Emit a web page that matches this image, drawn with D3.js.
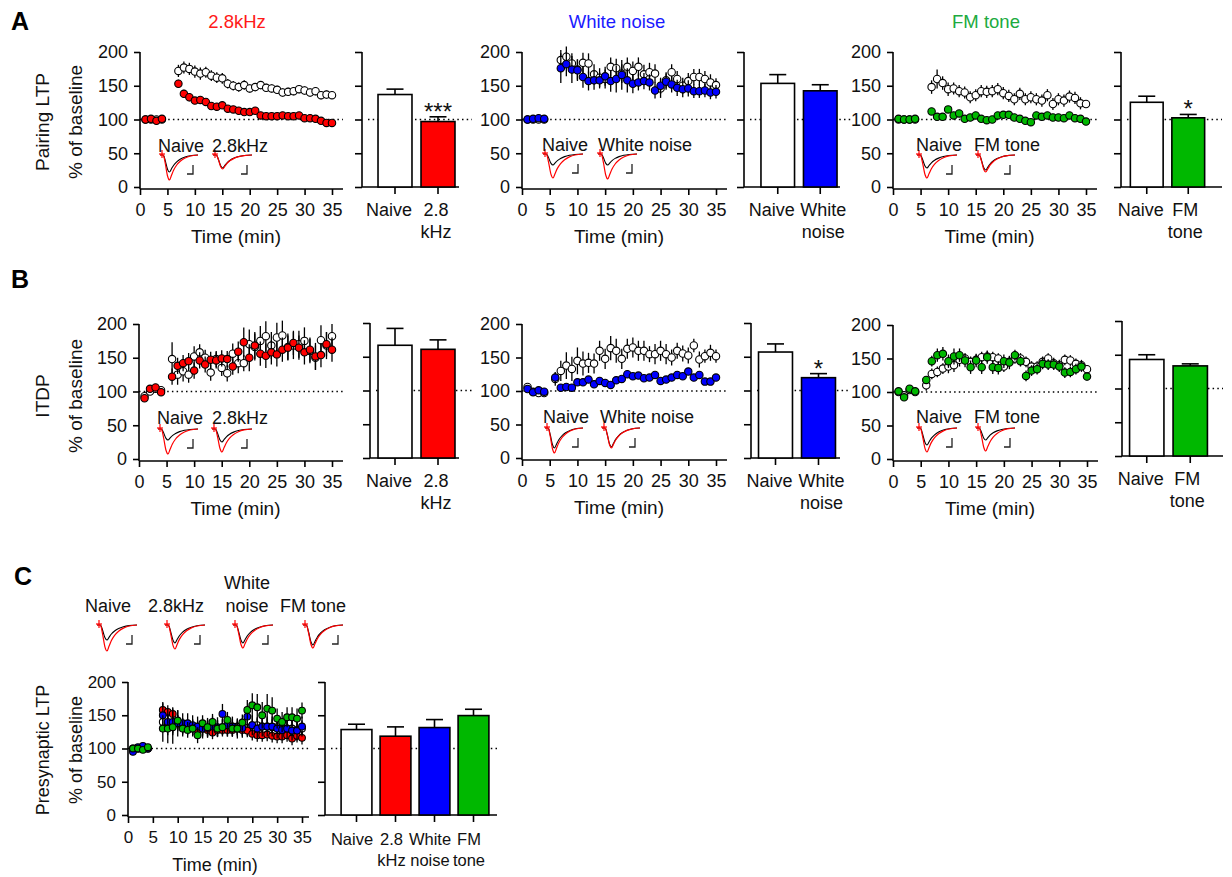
<!DOCTYPE html>
<html>
<head>
<meta charset="utf-8">
<script src="https://cdn.jsdelivr.net/npm/d3@7"></script>
<style>
  body { margin: 0; background: #fff; }
  svg { font-family: "Liberation Sans", Arial, sans-serif; }
</style>
</head>
<body>
<svg id="fig" width="1232" height="877"></svg>
<script>
// ---------- Data ----------

// time points (min)
const timeA = [1, 2, 3, 4, 7, 8, 9, 10, 11, 12, 13, 14, 15, 16, 17, 18, 19, 20, 21, 22, 23, 24, 25, 26, 27, 28, 29, 30, 31, 32, 33, 34, 35];
const timeB = [1, 2, 3, 4, 6, 7, 8, 9, 10, 11, 12, 13, 14, 15, 16, 17, 18, 19, 20, 21, 22, 23, 24, 25, 26, 27, 28, 29, 30, 31, 32, 33, 34, 35];
const timeTicks = [0, 5, 10, 15, 20, 25, 30, 35];
const yTicks = [0, 50, 100, 150, 200];

// A: pairing LTP
const a1Naive = [100, 100, 100, 100, 172, 177, 175, 171, 168, 170, 165, 162, 161, 153, 150, 148, 151, 146, 148, 151, 147, 146, 144, 140, 141, 142, 145, 143, 140, 142, 136, 137, 136];
const a1NaiveErr = [3, 3, 3, 3, 9, 9, 9, 9, 9, 8, 8, 8, 8, 7, 7, 7, 7, 6, 6, 6, 6, 6, 6, 6, 6, 6, 6, 6, 6, 6, 6, 6, 5];
const a1Tone = [100, 101, 98, 101, 153, 138, 133, 128, 129, 126, 120, 119, 121, 116, 115, 113, 111, 111, 113, 106, 105, 105, 105, 106, 105, 105, 106, 102, 102, 101, 98, 95, 95];
const a1ToneErr = [2, 2, 2, 2, 6, 6, 6, 5, 5, 5, 5, 5, 5, 4, 4, 4, 4, 4, 4, 4, 4, 4, 4, 4, 4, 4, 4, 4, 4, 4, 4, 4, 4];

const a2Naive = [100, 100, 100, 100, 188, 193, 183, 174, 184, 183, 167, 162, 160, 178, 176, 168, 178, 172, 178, 167, 170, 168, 146, 158, 170, 160, 150, 157, 163, 163, 160, 155, 151];
const a2NaiveErr = [3, 3, 3, 3, 15, 15, 15, 15, 15, 15, 15, 14, 14, 14, 14, 14, 14, 14, 14, 14, 14, 14, 14, 12, 12, 12, 12, 12, 12, 12, 12, 12, 10];
const a2Tone = [100, 101, 102, 101, 176, 182, 174, 173, 163, 157, 158, 158, 164, 157, 160, 166, 158, 153, 155, 157, 155, 143, 150, 156, 152, 147, 145, 146, 142, 142, 143, 140, 141];
const a2ToneErr = [2, 2, 2, 2, 22, 18, 20, 16, 16, 14, 14, 12, 14, 16, 20, 22, 18, 14, 12, 12, 12, 12, 12, 12, 12, 12, 12, 12, 10, 10, 10, 10, 10];

const a3Naive = [100, 100, 100, 100, 148, 160, 154, 145, 146, 142, 140, 133, 136, 142, 141, 142, 145, 139, 135, 130, 138, 130, 133, 130, 128, 136, 123, 130, 128, 134, 132, 124, 123];
const a3NaiveErr = [2, 2, 2, 2, 10, 14, 10, 10, 9, 9, 9, 9, 9, 9, 9, 9, 9, 9, 9, 9, 9, 9, 9, 9, 9, 9, 9, 9, 9, 9, 9, 9, 6];
const a3Tone = [101, 100, 100, 101, 112, 104, 104, 115, 106, 109, 101, 103, 106, 101, 99, 100, 106, 107, 107, 103, 101, 98, 96, 106, 104, 106, 103, 103, 102, 106, 102, 101, 97];
const a3ToneErr = [2, 2, 2, 2, 4, 4, 4, 4, 4, 4, 4, 4, 4, 4, 4, 4, 4, 4, 4, 4, 4, 4, 4, 4, 4, 4, 4, 4, 4, 4, 4, 4, 4];

// B: ITDP
const b1Naive = [93, 100, 104, 102, 148, 125, 130, 125, 152, 158, 150, 128, 148, 135, 127, 156, 142, 142, 170, 166, 175, 182, 168, 180, 183, 166, 168, 170, 175, 160, 150, 176, 168, 182];
const b1NaiveErr = [4, 4, 4, 4, 25, 15, 15, 12, 15, 12, 12, 12, 12, 12, 12, 15, 15, 12, 22, 20, 22, 22, 20, 22, 22, 20, 20, 20, 20, 18, 18, 22, 20, 18];
const b1Tone = [90, 104, 106, 99, 122, 138, 142, 145, 131, 146, 140, 147, 146, 149, 148, 137, 159, 173, 150, 168, 156, 153, 158, 155, 162, 165, 172, 165, 158, 162, 152, 154, 170, 162];
const b1ToneErr = [3, 3, 3, 3, 12, 12, 12, 12, 12, 12, 12, 12, 12, 12, 12, 12, 15, 22, 20, 20, 18, 18, 18, 18, 18, 18, 18, 18, 18, 18, 20, 18, 18, 18];

const b2Naive = [106, 99, 97, 97, 118, 130, 138, 133, 145, 141, 142, 141, 160, 148, 164, 160, 148, 163, 165, 160, 160, 155, 155, 160, 155, 150, 160, 156, 153, 168, 147, 152, 157, 152];
const b2NaiveErr = [3, 3, 3, 3, 10, 15, 20, 18, 20, 18, 15, 15, 15, 15, 18, 18, 15, 15, 15, 15, 15, 12, 15, 15, 15, 12, 12, 12, 12, 10, 12, 10, 12, 10];
const b2Tone = [103, 98, 101, 99, 120, 105, 106, 105, 113, 113, 117, 110, 115, 112, 109, 116, 118, 125, 122, 123, 119, 120, 124, 115, 117, 120, 124, 122, 129, 120, 124, 114, 114, 120];
const b2ToneErr = [3, 3, 3, 3, 8, 5, 5, 5, 5, 5, 5, 5, 5, 5, 5, 5, 5, 5, 5, 5, 5, 5, 5, 5, 5, 5, 5, 5, 5, 5, 5, 5, 5, 5];

const b3Naive = [100, 95, 103, 100, 110, 127, 130, 135, 138, 140, 148, 150, 145, 148, 152, 153, 152, 150, 138, 145, 150, 150, 145, 138, 138, 145, 150, 143, 140, 148, 147, 142, 140, 134];
const b3NaiveErr = [3, 3, 3, 3, 8, 8, 8, 8, 10, 10, 10, 8, 8, 8, 8, 8, 8, 8, 8, 8, 8, 8, 8, 8, 8, 8, 8, 8, 8, 8, 8, 8, 8, 6];
const b3Tone = [101, 92, 105, 101, 118, 146, 155, 157, 146, 153, 155, 147, 137, 147, 137, 152, 137, 136, 146, 144, 155, 146, 124, 132, 134, 142, 141, 141, 138, 129, 130, 134, 138, 123];
const b3ToneErr = [3, 3, 3, 3, 6, 8, 10, 10, 10, 12, 10, 10, 10, 10, 10, 10, 10, 10, 10, 10, 8, 8, 8, 8, 8, 8, 8, 8, 8, 8, 8, 8, 8, 6];

// C: presynaptic LTP
const cNaive = [100, 100, 100, 100, 140, 138, 135, 138, 133, 132, 132, 130, 130, 130, 131, 131, 132, 130, 133, 133, 132, 131, 135, 135, 133, 133, 132, 132, 130, 130, 130, 128, 130];
const cNaiveErr = [3, 3, 3, 3, 12, 12, 12, 12, 12, 12, 12, 12, 12, 12, 12, 12, 12, 12, 12, 12, 12, 12, 12, 12, 12, 12, 12, 12, 12, 12, 12, 12, 12];
const cTone28 = [98, 100, 102, 100, 158, 155, 152, 140, 135, 132, 130, 128, 130, 128, 124, 128, 128, 128, 128, 130, 128, 127, 122, 120, 120, 121, 119, 118, 118, 120, 115, 119, 116];
const cTone28Err = [3, 3, 3, 3, 10, 10, 10, 10, 10, 10, 10, 10, 10, 10, 10, 10, 10, 10, 10, 10, 10, 10, 10, 10, 10, 10, 10, 10, 10, 10, 10, 10, 10];
const cWhite = [95, 102, 104, 100, 150, 140, 140, 138, 138, 138, 135, 133, 130, 131, 133, 132, 152, 135, 133, 130, 131, 148, 135, 130, 133, 133, 133, 130, 128, 130, 127, 127, 133];
const cWhiteErr = [3, 3, 3, 3, 20, 20, 20, 20, 15, 15, 15, 15, 15, 15, 15, 15, 15, 15, 15, 15, 15, 15, 15, 15, 15, 15, 15, 15, 15, 15, 15, 15, 15];
const cFm = [100, 100, 98, 102, 130, 130, 132, 142, 130, 128, 130, 120, 138, 132, 140, 130, 132, 143, 130, 130, 139, 158, 165, 162, 150, 160, 157, 145, 140, 147, 147, 145, 157];
const cFmErr = [3, 3, 3, 3, 20, 22, 25, 15, 12, 12, 12, 12, 12, 12, 12, 12, 12, 12, 12, 12, 12, 15, 18, 20, 20, 22, 20, 15, 15, 15, 15, 15, 12];

// bar summaries
const barCats2 = [['Naive'], ['2.8', 'kHz']];
const barCatsWn = [['Naive'], ['White', 'noise']];
const barCatsFm = [['Naive'], ['FM', 'tone']];
const barCatsC = [['Naive'], ['2.8', 'kHz'], ['White', 'noise'], ['FM', 'tone']];

const barA1 = [137, 97], barA1Err = [8, 7];
const barA2 = [153.5, 142.5], barA2Err = [13, 9];
const barA3 = [125.5, 102.5], barA3Err = [9, 5];
const barB1 = [167, 161], barB1Err = [25, 14];
const barB2 = [157, 119], barB2Err = [12, 6];
const barB3 = [143, 133.5], barB3Err = [7, 3];
const barC = [128.5, 118.5, 131.5, 149.5], barCErr = [8, 14, 12, 9.5];

// example EPSC trace shape (normalised time, normalised amplitude)
const traceT = [0, 0.08, 0.10, 0.14, 0.20, 0.25, 0.30, 0.36, 0.44, 0.54, 0.66, 0.80, 1.0];
const traceV = [0, 0, 0.05, 0.35, 0.85, 1.0, 0.82, 0.6, 0.4, 0.24, 0.12, 0.04, 0];

// ---------- Drawing ----------

const RED = '#ff0000', BLUE = '#0000ff', GREEN = '#00b800';
const svg = d3.select('#fig');

function styleAxis(g, fs) {
  g.attr('font-family', null).attr('font-size', fs || 18);
  g.selectAll('.domain, .tick line').attr('stroke', '#000').attr('stroke-width', 1.6);
  g.selectAll('.tick text').attr('fill', '#111');
}

function dotted(g, x1, x2, y) {
  g.append('line')
    .attr('x1', x1).attr('x2', x2).attr('y1', y).attr('y2', y)
    .attr('stroke', '#000').attr('stroke-width', 1.5)
    .attr('stroke-dasharray', '1.5 3.2');
}

function drawScatter(p, series) {
  let g = svg.append('g');
  let fs = p.fs || 18;
  let x = d3.scaleLinear().domain([0, 35]).range([p.x0, p.x35]);
  let y = d3.scaleLinear().domain([0, 200]).range([p.yBot, p.yTop]);

  dotted(g, p.x0, p.xEnd, y(100));

  let ya = g.append('g')
    .attr('transform', 'translate(' + p.x0 + ',0)')
    .call(d3.axisLeft(y).tickValues(yTicks).tickSize(6).tickPadding(6).tickSizeOuter(0))
    .call(styleAxis, fs);
  ya.select('.domain').attr('d', 'M0,' + (p.yBot + 2) + 'V' + p.yTop);

  let xa = g.append('g')
    .attr('transform', 'translate(0,' + (p.yBot + 2) + ')')
    .call(d3.axisBottom(x).tickValues(timeTicks).tickSize(6).tickPadding(8).tickSizeOuter(0))
    .call(styleAxis, fs);
  xa.select('.domain').attr('d', 'M' + p.x0 + ',0H' + p.xEnd);

  g.append('text')
    .attr('x', (p.x0 + p.x35) / 2)
    .attr('y', p.yBot + 56)
    .attr('text-anchor', 'middle')
    .attr('font-size', fs + 1)
    .attr('fill', '#111')
    .text('Time (min)');

  series.forEach(function (s) {
    let pts = s.times.map(function (t, i) {
      return { t: t, v: s.vals[i], e: s.errs[i] };
    });
    g.append('g').selectAll('line').data(pts).join('line')
      .attr('x1', d => x(d.t)).attr('x2', d => x(d.t))
      .attr('y1', d => y(d.v - d.e)).attr('y2', d => y(d.v + d.e))
      .attr('stroke', '#000').attr('stroke-width', 1.3);
    g.append('g').selectAll('circle').data(pts).join('circle')
      .attr('cx', d => x(d.t))
      .attr('cy', d => y(d.v))
      .attr('r', p.r || 3.7)
      .attr('fill', s.fill)
      .attr('stroke', '#000')
      .attr('stroke-width', 1.1);
  });
}

function drawBars(p, cats, means, errs, fills, sig) {
  let g = svg.append('g');
  let keys = cats.map(c => c.join(' '));
  let x = d3.scaleBand().domain(keys).range([p.r0, p.r1]).paddingInner(0.21).paddingOuter(0.105);
  let y = d3.scaleLinear().domain([0, 200]).range([p.yBot, p.yTop]);

  dotted(g, p.axisX + 6, p.dotEnd, y(100));

  let ya = g.append('g')
    .attr('transform', 'translate(' + p.axisX + ',0)')
    .call(d3.axisLeft(y).tickValues(yTicks).tickSize(7).tickFormat('').tickSizeOuter(0))
    .call(styleAxis);
  ya.select('.domain').attr('d', 'M0,' + p.yBot + 'V' + p.yTop);

  let xa = g.append('g')
    .attr('transform', 'translate(0,' + p.yBot + ')')
    .call(d3.axisBottom(x).tickSize(7).tickFormat('').tickSizeOuter(0))
    .call(styleAxis);
  xa.select('.domain').attr('d', 'M' + p.axisX + ',0H' + p.axisEnd);

  let bw = x.bandwidth();
  keys.forEach(function (k, i) {
    let cx = x(k) + bw / 2;
    let top = y(means[i] + errs[i]);
    g.append('line')
      .attr('x1', cx).attr('x2', cx).attr('y1', y(means[i])).attr('y2', top)
      .attr('stroke', '#000').attr('stroke-width', 1.6);
    g.append('line')
      .attr('x1', cx - 8.5).attr('x2', cx + 8.5).attr('y1', top).attr('y2', top)
      .attr('stroke', '#000').attr('stroke-width', 1.6);
    g.append('rect')
      .attr('x', x(k)).attr('y', y(means[i]))
      .attr('width', bw).attr('height', p.yBot - y(means[i]))
      .attr('fill', fills[i]).attr('stroke', '#000').attr('stroke-width', 1.6);

    let t = g.append('text')
      .attr('text-anchor', 'middle')
      .attr('font-size', p.fs || 18)
      .attr('fill', '#111');
    cats[i].forEach(function (line, j) {
      t.append('tspan')
        .attr('x', cx + p.labelDx[i])
        .attr('y', p.yBot + (p.lab1 || 29) + j * (p.lineH || 22))
        .text(line);
    });

    if (sig[i]) {
      g.append('text')
        .attr('x', cx).attr('y', top + 3)
        .attr('text-anchor', 'middle')
        .attr('font-size', 24)
        .attr('fill', '#111')
        .text(sig[i]);
    }
  });
}

function drawTrace(tr) {
  let g = svg.append('g');
  let tx = d3.scaleLinear().domain([0, 1]).range([tr.x0, tr.x1]);
  let lineFor = function (depth) {
    let ty = d3.scaleLinear().domain([0, 1]).range([tr.base, tr.base + depth]);
    return d3.line().x((d, i) => tx(traceT[i])).y(d => ty(d)).curve(d3.curveMonotoneX);
  };
  g.append('path').attr('d', lineFor(tr.black)(traceV))
    .attr('fill', 'none').attr('stroke', '#000').attr('stroke-width', 1.1);
  g.append('path').attr('d', lineFor(tr.red)(traceV))
    .attr('fill', 'none').attr('stroke', RED).attr('stroke-width', 1.2);
  // stimulus artefact
  g.append('line').attr('x1', tr.x0 + 2).attr('x2', tr.x0 + 2)
    .attr('y1', tr.base - 5).attr('y2', tr.base + 3)
    .attr('stroke', RED).attr('stroke-width', 1.2);
  g.append('line').attr('x1', tr.x0 - 1).attr('x2', tr.x0 + 5)
    .attr('y1', tr.base - 1).attr('y2', tr.base - 1)
    .attr('stroke', RED).attr('stroke-width', 1.2);
  // scale bar
  let sx = tr.x1 - 5, sy = tr.base + 19;
  g.append('path')
    .attr('d', 'M' + sx + ',' + (sy - 9) + 'V' + sy + 'H' + (sx - 6))
    .attr('fill', 'none').attr('stroke', '#222').attr('stroke-width', 1.3);

  let t = svg.append('text')
    .attr('font-size', 18).attr('fill', '#111')
    .attr('text-anchor', tr.anchor || 'start');
  tr.label.forEach(function (line, j) {
    t.append('tspan').attr('x', tr.lx).attr('y', tr.ly - (tr.label.length - 1 - j) * 23).text(line);
  });
}

function text(x, y, s, size, fill, opts) {
  let t = svg.append('text')
    .attr('x', x).attr('y', y)
    .attr('font-size', size)
    .attr('fill', fill || '#111')
    .text(s);
  if (opts && opts.anchor) t.attr('text-anchor', opts.anchor);
  if (opts && opts.bold) t.attr('font-weight', 'bold');
  return t;
}

function rowLabel(cy, a, b, fs) {
  svg.append('text').attr('transform', 'translate(49,' + cy + ') rotate(-90)')
    .attr('text-anchor', 'middle').attr('font-size', fs).attr('fill', '#111').text(a);
  svg.append('text').attr('transform', 'translate(82,' + cy + ') rotate(-90)')
    .attr('text-anchor', 'middle').attr('font-size', fs).attr('fill', '#111').text(b);
}

// panel letters, titles, row labels
text(11, 30, 'A', 25, '#000', { bold: true });
text(11, 288, 'B', 25, '#000', { bold: true });
text(14, 585, 'C', 25, '#000', { bold: true });

text(237, 28, '2.8kHz', 18.5, '#ff1a1a', { anchor: 'middle' });
text(617, 28, 'White noise', 18.5, '#1a1aff', { anchor: 'middle' });
text(986, 28, 'FM tone', 18.5, '#20aa40', { anchor: 'middle' });

rowLabel(122, 'Pairing LTP', '% of baseline', 19);
rowLabel(396, 'ITDP', '% of baseline', 19);
rowLabel(750, 'Presynaptic  LTP', '% of baseline', 18);

// row A
drawScatter({ x0: 140, x35: 332, xEnd: 343, yTop: 52, yBot: 187 }, [
  { times: timeA, vals: a1Naive, errs: a1NaiveErr, fill: '#fff' },
  { times: timeA, vals: a1Tone, errs: a1ToneErr, fill: RED }
]);
drawBars({ axisX: 362, r0: 373.5, r1: 459.5, axisEnd: 459, dotEnd: 472, yTop: 52, yBot: 187, labelDx: [-6, -2] },
  barCats2, barA1, barA1Err, ['#fff', RED], [null, '***']);

drawScatter({ x0: 522, x35: 716, xEnd: 727, yTop: 52, yBot: 187 }, [
  { times: timeA, vals: a2Naive, errs: a2NaiveErr, fill: '#fff' },
  { times: timeA, vals: a2Tone, errs: a2ToneErr, fill: BLUE }
]);
drawBars({ axisX: 744, r0: 756.5, r1: 841.5, axisEnd: 840, dotEnd: 851, yTop: 52, yBot: 187, labelDx: [-6, 3] },
  barCatsWn, barA2, barA2Err, ['#fff', BLUE], [null, null]);

drawScatter({ x0: 893, x35: 1086, xEnd: 1097, yTop: 52, yBot: 187 }, [
  { times: timeA, vals: a3Naive, errs: a3NaiveErr, fill: '#fff' },
  { times: timeA, vals: a3Tone, errs: a3ToneErr, fill: GREEN }
]);
drawBars({ axisX: 1121, r0: 1126, r1: 1209, axisEnd: 1222, dotEnd: 1222, yTop: 52, yBot: 187, labelDx: [-6, -3] },
  barCatsFm, barA3, barA3Err, ['#fff', GREEN], [null, '*']);

// row B
drawScatter({ x0: 139, x35: 332, xEnd: 343, yTop: 324, yBot: 459 }, [
  { times: timeB, vals: b1Naive, errs: b1NaiveErr, fill: '#fff' },
  { times: timeB, vals: b1Tone, errs: b1ToneErr, fill: RED }
]);
drawBars({ axisX: 370, r0: 373.5, r1: 459.5, axisEnd: 459, dotEnd: 473, yTop: 323, yBot: 458, labelDx: [-6, -2] },
  barCats2, barB1, barB1Err, ['#fff', RED], [null, null]);

drawScatter({ x0: 522, x35: 716, xEnd: 727, yTop: 324, yBot: 458 }, [
  { times: timeB, vals: b2Naive, errs: b2NaiveErr, fill: '#fff' },
  { times: timeB, vals: b2Tone, errs: b2ToneErr, fill: BLUE }
]);
drawBars({ axisX: 751, r0: 754, r1: 840, axisEnd: 840, dotEnd: 851, yTop: 323, yBot: 458, labelDx: [-6, 3] },
  barCatsWn, barB2, barB2Err, ['#fff', BLUE], [null, '*']);

drawScatter({ x0: 893, x35: 1087, xEnd: 1098, yTop: 325, yBot: 459 }, [
  { times: timeB, vals: b3Naive, errs: b3NaiveErr, fill: '#fff' },
  { times: timeB, vals: b3Tone, errs: b3ToneErr, fill: GREEN }
]);
drawBars({ axisX: 1122, r0: 1125, r1: 1212, axisEnd: 1223, dotEnd: 1223, yTop: 321, yBot: 456, labelDx: [-6, -3] },
  barCatsFm, barB3, barB3Err, ['#fff', GREEN], [null, null]);

// row C
drawScatter({ x0: 128, x35: 302, xEnd: 309, yTop: 682, yBot: 815, r: 3.4, fs: 17 }, [
  { times: timeA, vals: cNaive, errs: cNaiveErr, fill: '#fff' },
  { times: timeA, vals: cTone28, errs: cTone28Err, fill: RED },
  { times: timeA, vals: cWhite, errs: cWhiteErr, fill: BLUE },
  { times: timeA, vals: cFm, errs: cFmErr, fill: GREEN }
]);
drawBars({ axisX: 325, r0: 337, r1: 493, axisEnd: 497, dotEnd: 498, yTop: 682, yBot: 815,
  fs: 16.5, lab1: 30, lineH: 21, labelDx: [-4.5, -4, -4.5, -4.5] },
  barCatsC, barC, barCErr, ['#fff', RED, BLUE, GREEN], [null, null, null, null]);

// example traces
const insets = [
  { label: ['Naive'], lx: 158, ly: 152, x0: 160, x1: 198, base: 155, black: 17, red: 25 },
  { label: ['2.8kHz'], lx: 212, ly: 152, x0: 213, x1: 252, base: 155, black: 13, red: 14 },
  { label: ['Naive'], lx: 542, ly: 151, x0: 543, x1: 583, base: 154, black: 11, red: 24 },
  { label: ['White noise'], lx: 598, ly: 151, x0: 598, x1: 637, base: 154, black: 11, red: 25 },
  { label: ['Naive'], lx: 916, ly: 151, x0: 917, x1: 957, base: 155, black: 13, red: 23 },
  { label: ['FM tone'], lx: 974, ly: 151, x0: 976, x1: 1015, base: 155, black: 15, red: 17 },
  { label: ['Naive'], lx: 157, ly: 424, x0: 158, x1: 198, base: 429, black: 11, red: 25 },
  { label: ['2.8kHz'], lx: 212, ly: 424, x0: 212, x1: 252, base: 429, black: 13, red: 23 },
  { label: ['Naive'], lx: 543, ly: 423, x0: 545, x1: 583, base: 428, black: 20, red: 25 },
  { label: ['White noise'], lx: 600, ly: 423, x0: 602, x1: 640, base: 428, black: 19, red: 20 },
  { label: ['Naive'], lx: 916, ly: 423, x0: 917, x1: 957, base: 428, black: 17, red: 24 },
  { label: ['FM tone'], lx: 974, ly: 423, x0: 976, x1: 1015, base: 428, black: 12, red: 23 },
  { label: ['Naive'], lx: 85, ly: 612, x0: 97, x1: 137, base: 625, black: 15, red: 26 },
  { label: ['2.8kHz'], lx: 148, ly: 612, x0: 165, x1: 205, base: 625, black: 18, red: 24 },
  { label: ['White', 'noise'], lx: 247, ly: 612, anchor: 'middle', x0: 233, x1: 273, base: 625, black: 18, red: 23 },
  { label: ['FM tone'], lx: 280, ly: 612, x0: 303, x1: 343, base: 625, black: 20, red: 23 }
];
insets.forEach(drawTrace);
</script>
</body>
</html>
